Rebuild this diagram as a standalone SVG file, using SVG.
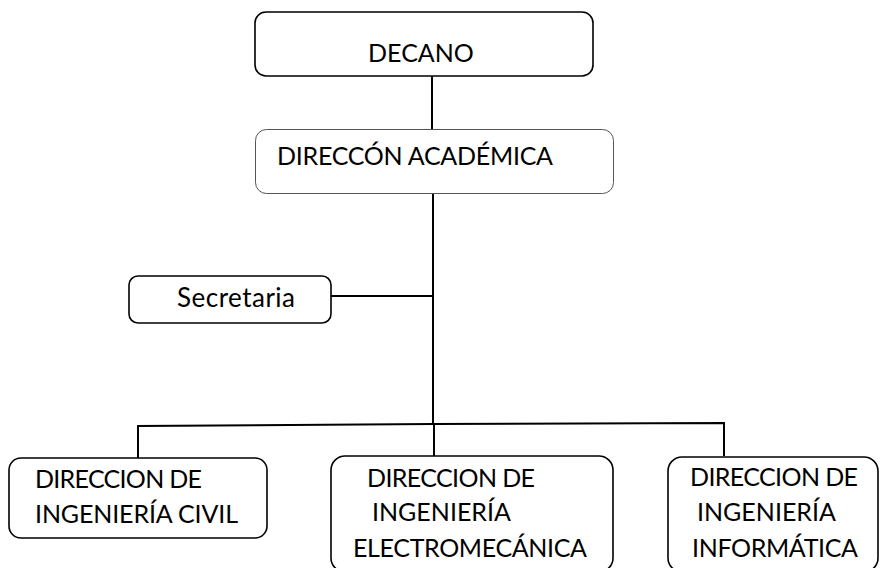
<svg xmlns="http://www.w3.org/2000/svg" width="880" height="568" viewBox="0 0 880 568">
<style>
.box{fill:#fff;stroke:#000;stroke-width:1.6}
.soft{fill:#fff;stroke:#555;stroke-width:1}
.ln{fill:none;stroke:#000;stroke-width:2}
text{font-family:Lato,"Open Sans","Liberation Sans",sans-serif;font-size:25px;fill:#000}
.sm{font-size:26px}
</style>
<rect width="880" height="568" fill="#fff"/>
<g id="connectors">
<line class="ln" x1="432" y1="76" x2="432" y2="129"/>
<line class="ln" x1="433" y1="194" x2="433" y2="424"/>
<line class="ln" x1="331" y1="296" x2="433" y2="296"/>
<polyline class="ln" points="138,458 138,426 433,424 724,423 724,456"/>
<line class="ln" x1="434" y1="424" x2="434" y2="456"/>
</g>
<g id="decano">
<rect class="box" x="255" y="12" width="338" height="64" rx="11"/>
<text x="421" y="62" text-anchor="middle">DECANO</text>
</g>
<g id="academica">
<rect class="soft" x="255.5" y="129.5" width="358" height="64" rx="11"/>
<text x="277" y="165" textLength="276">DIRECCÓN ACADÉMICA</text>
</g>
<g id="secretaria">
<rect class="box" x="129" y="276" width="202" height="47" rx="9"/>
<text class="sm" x="177" y="307" textLength="118">Secretaria</text>
</g>
<g id="civil">
<rect class="box" x="9" y="458" width="258" height="80" rx="12"/>
<text x="35" y="488" textLength="167">DIRECCION DE</text>
<text x="35" y="523" textLength="203">INGENIERÍA CIVIL</text>
</g>
<g id="electro">
<rect class="box" x="331" y="456" width="282" height="116" rx="14"/>
<text x="367" y="487" textLength="168">DIRECCION DE</text>
<text x="372" y="521">INGENIERÍA</text>
<text x="353" y="557" textLength="234">ELECTROMECÁNICA</text>
</g>
<g id="informatica">
<rect class="box" x="668" y="457" width="210" height="115" rx="14"/>
<text x="690" y="486" textLength="168">DIRECCION DE</text>
<text x="697" y="521">INGENIERÍA</text>
<text x="692" y="557" textLength="166">INFORMÁTICA</text>
</g>
</svg>
